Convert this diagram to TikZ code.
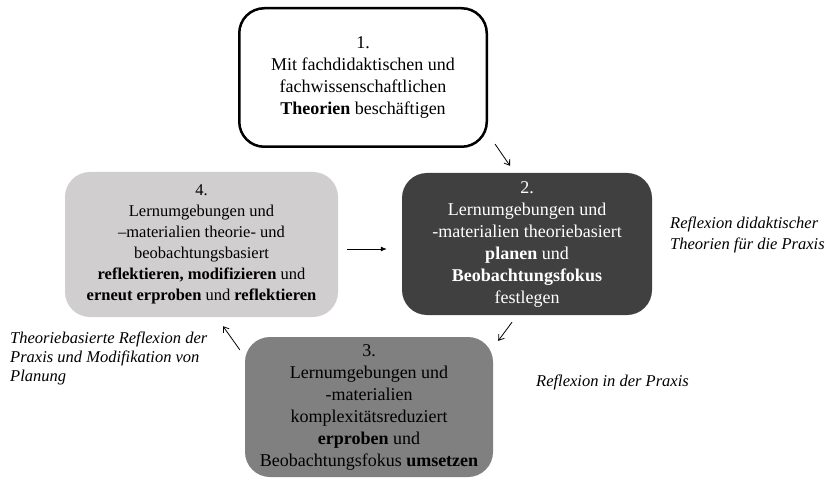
\documentclass[tikz,border=0pt]{standalone}
\usepackage{fontspec}
\setmainfont{Liberation Serif}
\usetikzlibrary{arrows.meta}
\definecolor{dunkel}{RGB}{64,64,64}
\definecolor{mittel}{RGB}{128,128,128}
\definecolor{hell}{RGB}{208,206,206}
\begin{document}
\begin{tikzpicture}[x=1pt, y=1pt,
		box/.style={rounded corners=25pt, align=center, inner sep=0pt},
		gross/.style={font=\fontsize{18}{22}\selectfont},
		klein/.style={font=\fontsize{16.5}{21}\selectfont},
		notiz/.style={anchor=west, align=left, inner sep=0pt, font=\fontsize{16.5}{21}\selectfont\itshape},
		pfeil/.style={-{Straight Barb[length=5pt, width=7pt]}, line width=0.8pt},
	]
		\useasboundingbox (0, 0) rectangle (826, 477);
		% die vier Phasen
		\node[box, gross, draw, line width=2.5pt, fill=white, minimum width=247.5pt, minimum height=138.5pt]
			(theorie) at (363, 399.5)
			{1.\\Mit fachdidaktischen und\\fachwissenschaftlichen\\\textbf{Theorien} beschäftigen};
		\node[box, gross, fill=dunkel, text=white, minimum width=250pt, minimum height=142pt]
			(planen) at (527, 233)
			{2.\\Lernumgebungen und\\-materialien theoriebasiert\\\textbf{planen} und\\\textbf{Beobachtungsfokus}\\festlegen};
		\node[box, gross, fill=mittel, minimum width=248pt, minimum height=140pt]
			(erproben) at (369, 70)
			{3.\\Lernumgebungen und\\-materialien\\komplexitätsreduziert\\\textbf{erproben} und\\Beobachtungsfokus \textbf{umsetzen}};
		\node[box, klein, fill=hell, minimum width=273pt, minimum height=145pt]
			(reflektieren) at (201.5, 232.5)
			{4.\\Lernumgebungen und\\–materialien theorie- und\\beobachtungsbasiert\\\textbf{reflektieren, modifizieren} und\\\textbf{erneut erproben} und \textbf{reflektieren}};
		% Pfeile
		\draw[pfeil] ([shift={(7, 4)}]theorie.south east) -- ([shift={(-17, 7)}]planen.north);
		\draw[-{Latex[length=6pt, width=5pt]}, line width=0.8pt]
			([shift={(9, -4.5)}]reflektieren.east) -- ([shift={(-15, -5)}]planen.west);
		\draw[pfeil] ([shift={(-15, -7)}]planen.south) -- ([shift={(5, -4)}]erproben.north east);
		\draw[pfeil] ([shift={(-5, -13)}]erproben.north west) -- ([shift={(21.5, -9)}]reflektieren.south);
		% Reflexionsebenen
		\node[notiz] (didaktik) at (670, 242) {Reflexion didaktischer\\Theorien für die Praxis};
		\node[notiz, font=\fontsize{16.5}{19}\selectfont\itshape] (modifikation) at (10, 119)
			{Theoriebasierte Reflexion der\\Praxis und Modifikation von\\Planung};
		\node[notiz] (praxis) at (536, 95) {Reflexion in der Praxis};
	\end{tikzpicture}
\end{document}
